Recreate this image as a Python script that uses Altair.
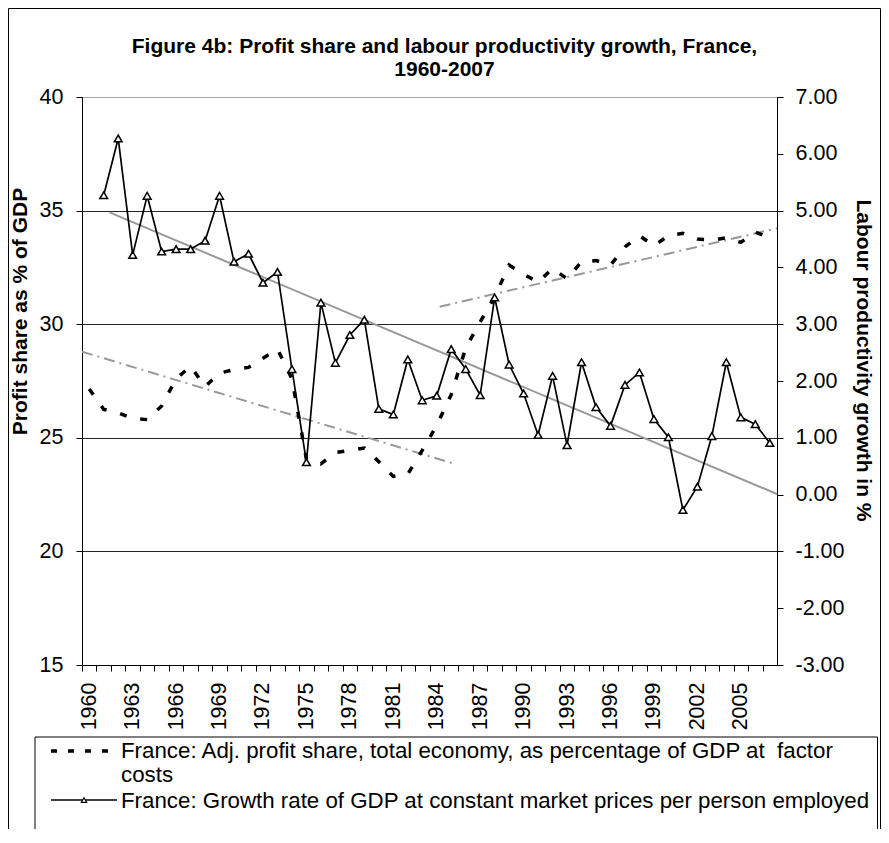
import altair as alt
import pandas as pd

# ---------------- data ----------------
years = list(range(1960, 2008))
profit_share = [27.15, 26.25, 26.1, 25.85, 25.8, 26.4, 27.6, 28.15, 27.25, 27.85,
                28.0, 28.1, 28.5, 28.9, 27.6, 24.05, 23.85, 24.35, 24.45, 24.55,
                23.95, 23.3, 23.4, 24.45, 25.55, 26.9, 28.95, 30.1, 31.2, 32.6,
                32.2, 31.85, 32.45, 32.0, 32.75, 32.8, 32.6, 33.4, 33.9, 33.45,
                33.9, 34.0, 33.75, 33.7, 33.8, 33.6, 34.05, 33.8]

growth_years = list(range(1961, 2008))
growth = [5.27, 6.27, 4.22, 5.26, 4.28, 4.32, 4.32, 4.47, 5.26, 4.10,
          4.24, 3.73, 3.92, 2.21, 0.57, 3.38, 2.32, 2.81, 3.08, 1.51,
          1.41, 2.38, 1.66, 1.74, 2.56, 2.21, 1.75, 3.47, 2.29, 1.78,
          1.05, 2.09, 0.87, 2.33, 1.54, 1.21, 1.93, 2.15, 1.33, 1.01,
          -0.27, 0.14, 1.03, 2.33, 1.36, 1.24, 0.91]

# trend lines (end points)
trend_early_years = [1959.5, 1985.25]
trend_early_values = [28.79, 23.85]
trend_late_years = [1984.2, 2007.5]
trend_late_values = [30.77, 34.22]
trend_growth_years = [1961.4, 2007.5]
trend_growth_values = [4.97, 0.01]

left_ticks = [15, 20, 25, 30, 35, 40]
right_ticks = [-3, -2, -1, 0, 1, 2, 3, 4, 5, 6, 7]

title_lines = ["Figure 4b: Profit share and labour productivity growth, France,", "1960-2007"]
left_title = "Profit share as % of GDP"
right_title = "Labour productivity growth in %"
legend_labels = [
    "France: Adj. profit share, total economy, as percentage of GDP at \u00a0factor\ncosts",
    "France: Growth rate of GDP at constant market prices per person employed",
]

# ---------------- layout / style ----------------
W, H = 695, 568
BAND = W / len(years)
FONT = "Liberation Sans"
FS = 21.5
LFS = 22.3

df_profit = pd.DataFrame({"year": years, "v": profit_share})
df_growth = pd.DataFrame({"year": growth_years, "v": growth})
df_tr_early = pd.DataFrame({"year": trend_early_years, "v": trend_early_values})
df_tr_late = pd.DataFrame({"year": trend_late_years, "v": trend_late_values})
df_tr_growth = pd.DataFrame({"year": trend_growth_years, "v": trend_growth_values})
df_one = pd.DataFrame({"k": [0]})
df_leg1 = pd.DataFrame({"label": [legend_labels[0]]})
df_leg2 = pd.DataFrame({"label": [legend_labels[1]]})
df_t1 = pd.DataFrame({"label": [title_lines[0]]})
df_t2 = pd.DataFrame({"label": [title_lines[1]]})

x_enc = alt.X(
    "year:Q",
    scale=alt.Scale(domain=[1959.5, 2007.5], nice=False, zero=False),
    axis=alt.Axis(
        values=years,
        tickOffset=-BAND / 2,
        labelOffset=BAND / 2,
        labelExpr="(datum.value - 1960) % 3 == 0 ? '' + datum.value : ''",
        labelAngle=-90,
        labelPadding=11,
        tickSize=6,
        tickColor="black",
        domainColor="black",
        labelOverlap=False,
        labelFlush=False,
        labelBound=False,
        grid=False,
        title=None,
        labelFont=FONT,
        labelFontSize=FS,
        labelColor="black",
    ),
)

left_axis = alt.Axis(
    orient="left",
    values=left_ticks,
    grid=True,
    gridColor={"condition": {"test": "datum.value == 40", "value": "#a6a6a6"}, "value": "#262626"},
    gridWidth=1,
    domainColor="black",
    tickColor="black",
    tickSize=6,
    labelPadding=13,
    labelFont=FONT,
    labelFontSize=FS,
    labelColor="black",
    title=left_title,
    titleFont=FONT,
    titleFontSize=21,
    titleFontWeight="bold",
    titleColor="black",
    titleX=-62,
    titleY=214,
    titleAlign="center",
    titleBaseline="middle",
)

right_axis = alt.Axis(
    orient="right",
    values=right_ticks,
    grid=False,
    domainColor="black",
    tickColor="black",
    tickSize=6,
    labelPadding=12,
    labelExpr="(datum.value < 0 ? '-' : '') + format(abs(datum.value), '.2f')",
    labelFont=FONT,
    labelFontSize=FS,
    labelColor="black",
    title=right_title,
    titleFont=FONT,
    titleFontSize=21,
    titleFontWeight="bold",
    titleColor="black",
    titleX=85,
    titleY=263,
    titleAlign="center",
    titleBaseline="middle",
)

y_left = alt.Y("v:Q", scale=alt.Scale(domain=[15, 40], nice=False, zero=False), axis=left_axis)
y_right = alt.Y("v:Q", scale=alt.Scale(domain=[-3, 7], nice=False, zero=False), axis=right_axis)

profit_line = alt.Chart(df_profit).mark_line(
    color="black", strokeWidth=3.5, strokeDash=[7, 14], strokeCap="butt"
).encode(x=x_enc, y=y_left)

trend_early = alt.Chart(df_tr_early).mark_line(
    color="#999999", strokeWidth=2, strokeDash=[11, 5, 2, 5]
).encode(x=x_enc, y=y_left)

trend_late = alt.Chart(df_tr_late).mark_line(
    color="#999999", strokeWidth=2, strokeDash=[11, 5, 2, 5]
).encode(x=x_enc, y=y_left)

left_group = alt.layer(trend_early, trend_late, profit_line)

trend_growth = alt.Chart(df_tr_growth).mark_line(
    color="#999999", strokeWidth=2
).encode(x=x_enc, y=y_right)

growth_line = alt.Chart(df_growth).mark_line(color="black", strokeWidth=1.7).encode(x=x_enc, y=y_right)

growth_pts = alt.Chart(df_growth).mark_point(
    shape="triangle-up", filled=True, fill="white", stroke="black",
    strokeWidth=1.5, size=60, opacity=1
).encode(x=x_enc, y=y_right)

right_group = alt.layer(trend_growth, growth_line, growth_pts)

# chart frame, title, legend box, legend samples and labels
frame = alt.Chart(df_one).mark_rect(fill="white", fillOpacity=0, stroke="black", strokeWidth=1).encode(
    x=alt.value(-73.5), x2=alt.value(798.5), y=alt.value(-88.5), y2=alt.value(760)
)
title1 = alt.Chart(df_t1).mark_text(
    align="center", baseline="alphabetic", font=FONT, fontSize=21, fontWeight="bold", color="black"
).encode(x=alt.value(W / 2 + 15), y=alt.value(-44), text="label:N")
title2 = alt.Chart(df_t2).mark_text(
    align="center", baseline="alphabetic", font=FONT, fontSize=21, fontWeight="bold", color="black"
).encode(x=alt.value(W / 2 + 15), y=alt.value(-21), text="label:N")

legend_box = alt.Chart(df_one).mark_rect(fill="white", fillOpacity=0, stroke="black", strokeWidth=1).encode(
    x=alt.value(-47), x2=alt.value(795.5), y=alt.value(640), y2=alt.value(760)
)
leg_dash = alt.Chart(df_one).mark_rule(color="black", strokeWidth=3.5, strokeDash=[6, 11], strokeCap="butt").encode(
    x=alt.value(-31), x2=alt.value(35), y=alt.value(654)
)
leg_solid = alt.Chart(df_one).mark_rule(color="black", strokeWidth=1.5).encode(
    x=alt.value(-31), x2=alt.value(35), y=alt.value(703)
)
leg_tri = alt.Chart(df_one).mark_point(
    shape="triangle-up", filled=True, fill="white", stroke="black", strokeWidth=1.2, size=28, opacity=1
).encode(x=alt.value(2), y=alt.value(703))
leg_text1 = alt.Chart(df_leg1).mark_text(
    align="left", baseline="middle", font=FONT, fontSize=LFS, lineBreak="\n", lineHeight=24, color="black"
).encode(x=alt.value(39), y=alt.value(654), text="label:N")
leg_text2 = alt.Chart(df_leg2).mark_text(
    align="left", baseline="middle", font=FONT, fontSize=LFS, color="black"
).encode(x=alt.value(39), y=alt.value(704), text="label:N")

chart = alt.layer(
    left_group, right_group, frame, title1, title2, legend_box, leg_dash, leg_solid, leg_tri,
    leg_text1, leg_text2
).resolve_scale(y="independent").properties(
    width=W,
    height=H,
    autosize=alt.AutoSizeParams(type="none"),
    padding={"left": 74, "top": 89, "right": 104, "bottom": 164},
).configure_view(stroke="#a6a6a6", strokeWidth=1).configure(background="white")

chart.save("out.html", embed_options={"renderer": "svg", "actions": False})
